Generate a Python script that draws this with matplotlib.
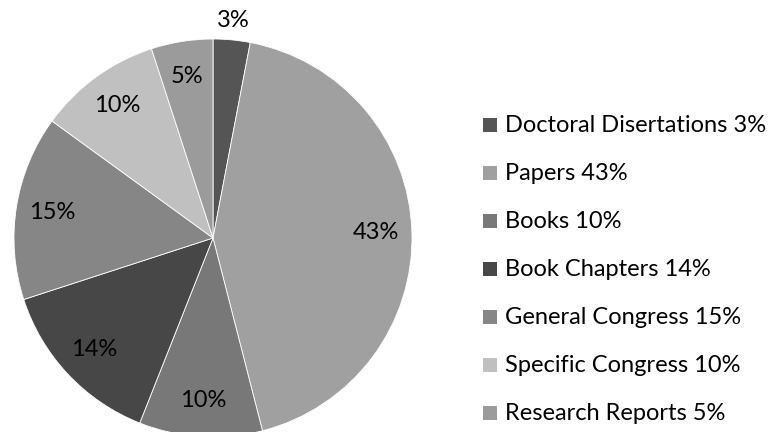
import matplotlib
matplotlib.use("Agg")
import matplotlib.pyplot as plt
from matplotlib.patches import Rectangle
import numpy as np

categories = ["Doctoral Disertations", "Papers", "Books", "Book Chapters",
              "General Congress", "Specific Congress", "Research Reports"]
values = [3, 43, 10, 14, 15, 10, 5]
colors = ["#555555", "#a0a0a0", "#787878", "#474747", "#868686", "#c0c0c0", "#9b9b9b"]

plt.rcParams['font.family'] = ['Lato', 'DejaVu Sans']
FS = 17

W, H = 772, 432
fig = plt.figure(figsize=(W / 100, H / 100), dpi=100)
fig.patch.set_facecolor("white")

# pie axes: centre (213, 238) px, radius 199 px
cx, cy, R = 213, 238, 199
ax = fig.add_axes([(cx - R) / W, (H - cy - R) / H, 2 * R / W, 2 * R / H])

wedges, texts, autotexts = ax.pie(
    values, colors=colors, startangle=90, counterclock=False, radius=1,
    autopct=lambda p: f"{p:.0f}%", pctdistance=0.82,
    wedgeprops=dict(edgecolor="white", linewidth=0.6),
    textprops=dict(fontsize=FS, color="black"))
ax.set_xlim(-1, 1)
ax.set_ylim(-1, 1)
ax.set_aspect("auto")
ax.axis("off")
for w in wedges:
    w.set_clip_on(False)
for t in autotexts:
    t.set_clip_on(False)

# small first slice: label outside
w0 = wedges[0]
mid = np.deg2rad((w0.theta1 + w0.theta2) / 2)
autotexts[0].set_position((1.1 * np.cos(mid), 1.1 * np.sin(mid)))

# legend
x_box, x_txt, y0, dy, box = 483, 505, 125, 48, 14
for i, (c, v, col) in enumerate(zip(categories, values, colors)):
    y = y0 + i * dy
    fig.patches.append(Rectangle(((x_box) / W, (H - y - box / 2) / H), box / W, box / H,
                                 transform=fig.transFigure, facecolor=col, edgecolor="none"))
    fig.text(x_txt / W, (H - y) / H, f"{c} {v}%", fontsize=FS, va="center", ha="left",
             color="black")

fig.savefig("out.png", dpi=100, facecolor="white")
